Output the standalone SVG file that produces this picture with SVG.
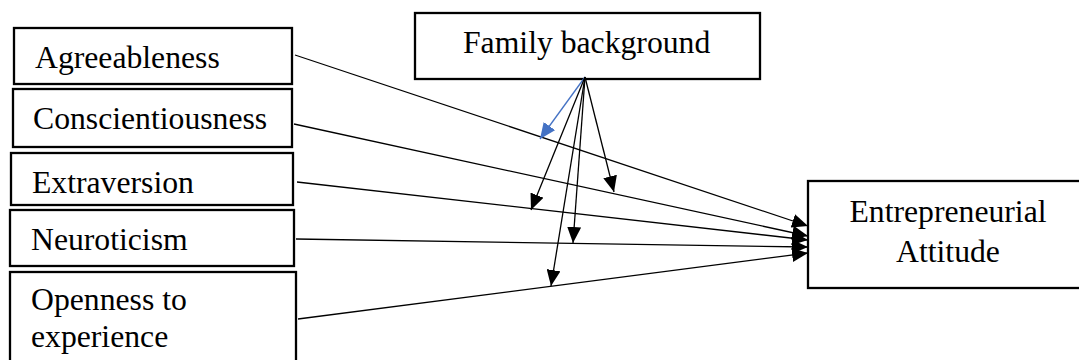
<svg xmlns="http://www.w3.org/2000/svg" width="1079" height="360" viewBox="0 0 1079 360">
  <style>
    .box { fill: #ffffff; stroke: #000000; stroke-width: 2.3; }
    .lbl { font-family: "Liberation Serif", "Times New Roman", serif; font-size: 31.7px; fill: #000000; }
    .edge { fill: none; stroke: #000000; stroke-width: 1.3; }
    .blue { fill: none; stroke: #4472C4; stroke-width: 1.3; }
  </style>
  <defs>
    <marker id="ah" markerUnits="userSpaceOnUse" markerWidth="16" markerHeight="14" refX="16" refY="7" orient="auto">
      <path d="M0,0 L16,7 L0,14 Z" fill="#000000"/>
    </marker>
    <marker id="ahb" markerUnits="userSpaceOnUse" markerWidth="16" markerHeight="14" refX="16" refY="7" orient="auto">
      <path d="M0,0 L16,7 L0,14 Z" fill="#4472C4"/>
    </marker>
  </defs>
  <rect width="1079" height="360" fill="#ffffff"/>

  <g id="agreeableness">
    <rect class="box" x="14" y="28" width="278" height="56"/>
    <text class="lbl" x="35" y="68">Agreeableness</text>
  </g>
  <g id="conscientiousness">
    <rect class="box" x="13" y="89" width="279" height="58"/>
    <text class="lbl" x="33" y="129">Conscientiousness</text>
  </g>
  <g id="extraversion">
    <rect class="box" x="11" y="153" width="282" height="52"/>
    <text class="lbl" x="32" y="193">Extraversion</text>
  </g>
  <g id="neuroticism">
    <rect class="box" x="10" y="210" width="284" height="56"/>
    <text class="lbl" x="31" y="250">Neuroticism</text>
  </g>
  <g id="openness">
    <rect class="box" x="10" y="272" width="286" height="100"/>
    <text class="lbl" x="31" y="310">Openness to</text>
    <text class="lbl" x="31" y="347">experience</text>
  </g>
  <g id="family">
    <rect class="box" x="415" y="13" width="345" height="66"/>
    <text class="lbl" x="463" y="53">Family background</text>
  </g>
  <g id="attitude">
    <rect class="box" x="808" y="181" width="282" height="107"/>
    <text class="lbl" x="948" y="222" text-anchor="middle">Entrepreneurial</text>
    <text class="lbl" x="948" y="262" text-anchor="middle">Attitude</text>
  </g>

  <g id="connectors">
    <line class="edge" x1="295" y1="55" x2="808" y2="226" marker-end="url(#ah)"/>
    <line class="edge" x1="294" y1="124" x2="808" y2="236" marker-end="url(#ah)"/>
    <line class="edge" x1="297" y1="182" x2="808" y2="240" marker-end="url(#ah)"/>
    <line class="edge" x1="296" y1="239" x2="808" y2="247" marker-end="url(#ah)"/>
    <line class="edge" x1="298" y1="319" x2="808" y2="253" marker-end="url(#ah)"/>
    <line class="blue" x1="585" y1="77" x2="540" y2="139" marker-end="url(#ahb)"/>
    <line class="edge" x1="585" y1="77" x2="614" y2="192" marker-end="url(#ah)"/>
    <line class="edge" x1="585" y1="77" x2="531" y2="210" marker-end="url(#ah)"/>
    <line class="edge" x1="585" y1="77" x2="573" y2="243" marker-end="url(#ah)"/>
    <line class="edge" x1="585" y1="77" x2="551" y2="286" marker-end="url(#ah)"/>
  </g>
</svg>
